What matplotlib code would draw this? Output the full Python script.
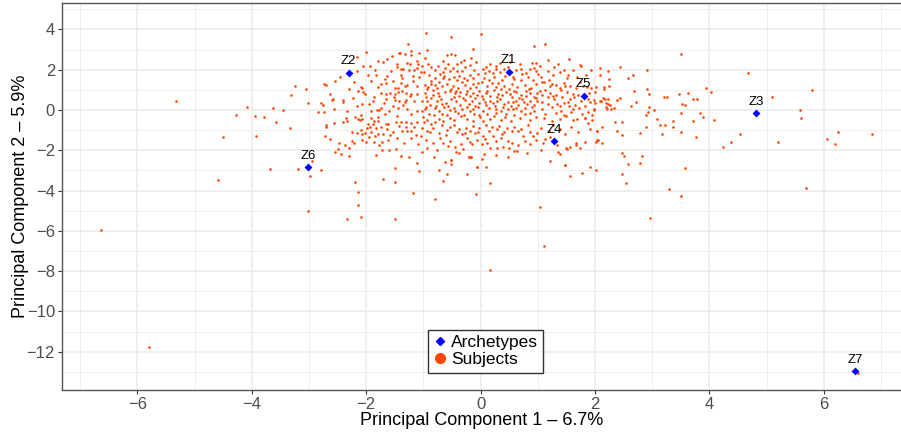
import matplotlib
matplotlib.use("Agg")
import matplotlib.pyplot as plt
from matplotlib.lines import Line2D
import numpy as np

plt.rcParams['font.family'] = ['Liberation Sans', 'DejaVu Sans']

# --- archetypes (PC1, PC2) ---
arch_names = ["Z1", "Z2", "Z3", "Z4", "Z5", "Z6", "Z7"]
arch_pc1 = [0.49, -2.31, 4.82, 1.28, 1.80, -3.02, 6.55]
arch_pc2 = [1.88, 1.86, -0.17, -1.56, 0.71, -2.85, -12.98]

# --- subjects (PC1, PC2) ---
outer = [
    (-6.63, -5.95), (-5.79, -11.78), (-5.33, 0.45), (-4.60, -3.45), (-4.50, -1.34),
    (-4.28, -0.26), (-4.09, 0.15), (-3.95, -0.30), (-3.93, -1.31), (-3.78, -0.35),
    (-3.69, -2.92), (-3.63, 0.11), (-3.57, -0.61), (-3.45, -0.02), (-3.34, -0.91),
    (-3.32, 0.73), (-3.24, 1.19), (-3.19, -2.92), (-3.06, 1.03), (-3.02, 0.35),
    (-2.98, -3.27), (-3.02, -5.01), (-2.79, -3.00), (-2.94, -2.52), (-2.84, -0.12),
    (6.59, -13.05), (1.04, -4.79), (1.11, -6.75), (0.16, -7.93), (2.97, -5.34),
    (-2.34, -5.42), (-2.09, -5.32), (-1.49, -5.39), (-2.14, -4.69), (-2.14, -4.06),
    (-2.20, -3.55), (-1.71, -3.43), (-1.50, -3.58), (-1.49, -2.89), (-1.18, -4.13),
    (-1.26, -2.35), (-1.12, -2.65), (-1.07, -3.02), (-0.79, -4.43), (-0.65, -3.50),
    (-0.72, -2.99), (-0.62, -2.59), (-0.51, -2.50), (-0.51, -2.69), (-0.20, -2.32),
    (-0.17, -2.32), (-0.24, -3.20), (-0.07, -2.85), (-0.08, -4.18), (0.06, -2.19),
    (0.10, -2.82), (0.16, -3.62), (-0.59, -3.16), (0.02, -2.44),
]

right = [
    (3.51, 2.80), (4.68, 1.86), (5.80, 0.98), (5.09, 0.66), (3.94, 1.11), (4.03, 0.91),
    (3.63, 0.83), (3.46, 0.80), (3.20, 0.63), (3.25, 0.66), (3.72, 0.53), (3.79, 0.53),
    (3.52, 0.30), (3.58, 0.25), (3.50, -0.13), (3.84, -0.15), (3.89, -0.35), (4.08, -0.50),
    (3.71, -0.56), (3.77, -1.33), (3.51, -1.09), (3.36, -0.56), (3.36, -0.83), (3.09, -0.43),
    (3.14, -0.76), (3.22, -0.73), (3.17, -1.19), (3.03, 0.02), (2.94, 0.16), (2.93, -0.12),
    (2.89, -0.25), (2.90, -0.83), (2.79, -1.13), (2.91, 1.03), (2.95, 0.80), (2.71, 0.40),
    (2.63, 0.18), (2.69, 0.93), (2.44, 0.58), (2.39, 0.51), (2.47, -0.58), (2.35, -0.58),
    (2.48, -1.23), (2.39, -1.04), (2.12, -0.83), (2.04, -1.04), (1.91, -0.93), (1.87, -0.66),
    (1.94, -0.50), (1.83, -0.40), (2.01, -1.58), (2.04, -1.50), (2.12, -1.64), (1.83, -1.58),
    (1.73, -1.89), (1.66, -1.64), (1.51, -1.92), (2.47, -2.12), (2.50, -2.26), (2.83, -2.26),
    (2.78, -2.65), (2.57, -2.70), (1.48, -2.74), (1.91, -2.84), (2.02, -2.99), (1.78, -3.12),
    (1.56, -3.28), (2.47, -3.17), (2.55, -3.60), (3.57, -2.89), (3.30, -3.91), (3.50, -4.25),
    (4.53, -1.21), (4.38, -1.59), (4.23, -1.82), (5.20, -1.59), (5.58, 0.00), (5.61, -0.41),
    (6.05, -1.43), (6.25, -1.09), (6.19, -1.68), (6.85, -1.21), (5.69, -3.87), (2.01, 1.16),
    (2.16, 1.16), (2.24, 1.19), (2.16, 1.04), (2.14, 0.58), (2.22, 0.56), (2.19, 0.33),
    (2.27, 0.25), (2.33, 0.10), (2.20, 0.13), (1.99, 0.50), (1.99, 0.00), (2.09, 0.46),
    (1.92, 0.40), (1.95, -0.25), (1.55, 2.54), (1.76, 2.19), (1.93, 1.99), (2.09, 2.09),
    (2.23, 1.92), (2.44, 2.16), (2.58, 1.61), (2.67, 1.72), (2.91, 2.01), (2.08, 1.76),
    (2.24, 1.53), (1.93, 1.09), (1.74, 2.24), (1.79, 1.21), (1.86, 1.16), (2.00, 0.88),
    (1.88, 0.56), (2.00, 0.36), (2.10, 0.43), (2.17, 0.53), (2.22, 0.28), (2.28, 0.05),
    (1.98, 0.03), (2.21, 0.07), (1.82, -0.38), (2.03, -1.04), (2.05, -1.49), (1.36, -2.07),
    (1.38, -2.20), (1.48, -2.74), (1.50, -1.90), (1.57, -1.82), (1.66, -1.74), (1.22, -2.54),
    (1.28, 2.12), (0.93, 3.20), (1.13, 3.28), (0.96, 2.34),
]

upper_left = [
    (-0.95, 3.83), (-0.51, 3.63), (0.01, 3.80), (-1.27, 3.30), (-0.93, 2.97), (-1.42, 2.85),
    (-1.22, 2.95), (-0.13, 3.05), (-0.52, 2.79), (-2.01, 2.90), (-2.06, 2.20), (-2.17, 1.92),
    (-2.16, 2.64), (-2.09, 1.16), (-2.15, 0.96), (-2.74, 1.29), (-2.70, 1.26), (-2.79, 0.36),
    (-2.75, 0.26), (-2.55, 1.46), (-2.46, 1.66), (-2.64, 0.80), (-2.58, 0.55), (-2.70, -0.75),
    (-2.57, -0.63), (-2.40, 0.50), (-2.40, -0.58), (-2.73, -1.31), (-2.64, -1.46), (-2.54, -2.09),
    (-2.48, -1.63), (-2.44, -2.20), (-2.30, -2.29), (-2.37, -1.72), (-2.25, -1.09), (-2.20, -0.33),
    (-2.10, -0.25), (-2.07, -0.46), (-2.08, 0.28), (-1.55, 2.70), (-1.41, 2.82), (-1.32, 2.79),
    (-1.22, 2.72), (-1.08, 2.82), (-1.47, 2.30), (-1.29, 2.32), (-1.23, 2.29), (-1.11, 2.44),
    (-1.09, 2.27), (-1.02, 2.17), (-0.92, 2.30), (-1.85, 2.00), (-1.39, 2.02), (-1.35, 2.02),
    (-1.26, 2.00), (-1.16, 1.99), (-1.05, 1.89), (-0.99, 1.89), (-1.83, 1.72), (-1.63, 1.71),
    (-1.40, 1.72), (-1.19, 1.68), (-1.92, 1.46), (-2.08, 1.11), (-1.68, 1.53), (-1.65, 1.33),
    (-1.80, 1.13), (-1.53, 1.46), (-1.49, 1.11), (-1.44, 1.11), (-1.39, 1.33), (-1.32, 1.19),
    (-1.28, 1.22), (-1.30, 0.86), (-1.21, 0.82), (-1.11, 1.21), (-0.98, 1.26), (-0.94, 1.04),
    (-0.98, 0.86), (-1.11, 0.80), (-2.05, 0.88), (-2.03, 0.80), (-1.74, 0.85), (-1.65, 0.81),
    (-1.58, 0.84), (-1.49, 0.78), (-1.45, 0.88), (-1.65, 0.53), (-1.49, 0.50), (-1.43, 0.43),
    (-1.33, 0.40), (-1.30, 0.50), (-1.16, 0.45), (-1.02, 0.45), (-0.94, 0.45), (-1.96, 0.31),
    (-1.81, 0.02), (-1.78, 0.00), (-1.74, 0.10), (-1.60, -0.05), (-1.44, 0.08), (-1.28, 0.05),
    (-1.11, -0.07), (-1.02, -0.07), (-0.97, 0.03), (-1.92, -0.07), (-2.16, 0.20), (-2.34, -0.03),
    (-2.56, 0.05), (-2.74, -0.08), (-2.41, 0.41), (-2.60, 0.48),
]

centre_top = [
    (-0.59, 2.75), (-0.44, 2.72), (-0.17, 2.59), (-0.66, 2.45), (-0.57, 2.30), (-0.42, 2.27),
    (-0.29, 2.50), (-0.19, 2.25), (0.10, 2.15), (0.16, 2.27), (0.27, 2.20), (0.26, 2.04),
    (0.15, 1.96), (0.08, 1.82), (0.40, 2.04), (0.90, 2.32), (0.94, 2.09), (0.86, 2.04),
    (1.46, 2.01), (1.53, 1.76), (-0.79, 1.97), (-0.66, 1.91), (-0.53, 1.92), (-0.42, 1.94),
    (-0.32, 1.96), (-0.19, 1.76), (-0.05, 1.81), (-0.80, 1.61), (-0.72, 1.41), (-0.64, 1.69),
    (-0.56, 1.53), (-0.42, 1.49), (-0.33, 1.39), (-0.23, 1.48), (-0.13, 1.28), (-0.04, 1.33),
    (0.03, 1.41), (0.14, 1.51), (0.19, 1.36), (0.31, 1.36), (0.37, 1.48), (0.54, 1.29),
    (0.59, 1.53), (0.71, 1.49), (0.73, 1.78), (1.00, 1.78), (1.07, 1.41), (1.11, 1.41),
    (1.19, 1.51), (1.25, 1.31), (1.32, 1.26), (1.46, 1.33), (1.57, 1.21), (1.51, 1.61),
    (-0.87, 1.28), (-0.79, 1.26), (-0.83, 0.98), (-0.74, 0.85), (-0.62, 0.88), (-0.53, 0.96),
    (-0.44, 0.86), (-0.36, 0.90), (-0.26, 0.79), (-0.14, 0.86), (-0.06, 0.76), (-0.02, 0.95),
    (0.09, 0.85), (0.23, 1.00), (0.31, 0.80), (0.44, 0.91), (0.51, 0.79), (0.62, 0.90),
    (0.71, 0.75), (0.79, 0.96), (0.87, 0.86), (0.98, 0.84), (1.08, 0.73), (1.13, 1.00),
    (1.22, 0.86), (1.32, 0.77), (1.41, 1.00), (1.51, 0.91), (1.62, 0.81), (1.71, 0.75),
    (-0.87, 0.58), (-0.77, 0.45), (-0.69, 0.53), (-0.60, 0.36), (-0.52, 0.53), (-0.43, 0.45),
    (-0.36, 0.25), (-0.28, 0.51), (-0.21, 0.30), (-0.15, 0.45), (-0.10, 0.18), (-0.02, 0.36),
    (0.05, 0.56), (0.10, 0.23), (0.17, 0.45), (0.25, 0.20), (0.33, 0.53), (0.41, 0.30),
    (0.48, 0.03), (0.57, 0.05), (0.65, 0.25), (0.73, 0.53), (0.81, 0.30), (0.89, 0.13),
    (0.99, 0.43), (1.08, 0.05), (1.18, 0.28), (1.29, 0.53), (1.38, 0.18), (1.46, 0.35),
    (1.55, 0.18), (1.65, 0.25), (-0.80, 0.08), (-0.72, -0.07), (-0.53, 0.02), (-0.44, -0.07),
    (-0.18, -0.05), (0.04, -0.05), (0.36, -0.05), (0.70, -0.07), (0.94, -0.07), (1.41, -0.07),
]

centre_low = [
    (-2.36, -0.41), (-2.34, -0.55), (-2.15, -0.42), (-2.11, -0.50), (-1.91, -0.40), (-1.87, -0.53),
    (-1.79, -0.53), (-1.79, -0.33), (-1.65, -0.70), (-1.62, -0.70), (-1.48, -0.61), (-1.40, -0.58),
    (-1.30, -0.61), (-1.22, -0.63), (-1.11, -0.61), (-1.01, -0.35), (-0.99, -0.58), (-0.93, -0.50),
    (-2.70, -0.85), (-2.17, -1.16), (-2.10, -0.98), (-1.98, -0.91), (-1.91, -1.11), (-1.83, -0.91),
    (-1.75, -0.86), (-1.89, -0.70), (-1.97, -0.68), (-2.03, -1.16), (-2.07, -1.21), (-1.95, -1.36),
    (-1.85, -1.31), (-1.79, -1.20), (-1.70, -1.21), (-1.59, -1.23), (-1.47, -1.41), (-1.37, -1.05),
    (-1.28, -1.03), (-1.21, -1.03), (-1.13, -1.23), (-1.05, -1.30), (-0.93, -1.03), (-0.89, -1.11),
    (-2.25, -1.54), (-2.22, -1.66), (-2.07, -1.49), (-2.00, -1.61), (-1.77, -1.72), (-1.72, -1.58),
    (-1.60, -1.96), (-1.73, -1.97), (-1.48, -1.91), (-0.94, -1.86), (-2.50, -1.94), (-2.30, -1.86),
    (-0.79, -0.58), (-0.73, -0.45), (-0.65, -0.55), (-0.54, -0.38), (-0.47, -0.50), (-0.35, -0.32),
    (-0.24, -0.45), (-0.13, -0.55), (-0.01, -0.35), (0.05, -0.52), (0.16, -0.42), (0.23, -0.30),
    (0.36, -0.48), (0.43, -0.36), (0.53, -0.55), (0.69, -0.40), (0.87, -0.47), (0.97, -0.33),
    (1.10, -0.38), (1.24, -0.52), (1.38, -0.44), (1.50, -0.30), (1.62, -0.50), (1.69, -0.42),
    (-0.83, -0.91), (-0.67, -0.75), (-0.59, -0.97), (-0.47, -0.72), (-0.41, -1.08), (-0.33, -1.19),
    (-0.25, -0.88), (-0.19, -1.04), (-0.09, -1.16), (-0.02, -0.91), (0.05, -1.28), (0.14, -1.03),
    (0.22, -1.29), (0.29, -0.95), (0.37, -1.21), (0.46, -0.91), (0.55, -1.04), (0.65, -1.06),
    (0.78, -1.54), (0.87, -1.08), (0.99, -1.16), (1.13, -1.44), (-0.76, -1.99), (-0.65, -1.66),
    (-0.53, -1.54), (-0.44, -1.82), (-0.35, -1.71), (-0.24, -1.41), (-0.15, -1.71), (-0.06, -1.49),
    (0.08, -1.44), (0.17, -1.90), (0.29, -1.87), (0.39, -1.82), (0.49, -1.90), (0.58, -2.04),
    (0.64, -2.04), (0.47, -1.54), (0.55, -1.66), (-0.52, -2.49), (-0.43, -2.07), (-0.21, -2.33),
    (-0.16, -2.33), (-0.06, -2.84),
]

# estimated extra points where the core is too dense to read one by one
core_fill = [
    (-1.93, 2.21), (-1.71, 2.38), (-1.57, 1.94), (-1.46, 2.13), (-1.38, 1.57), (-1.74, 1.27),
    (-1.86, 0.67), (-1.52, 0.66), (-1.37, 0.97), (-1.18, 1.42), (-1.07, 1.62), (-1.24, 0.68),
    (-1.69, 0.34), (-1.53, 0.21), (-1.36, 0.24), (-1.21, -0.22), (-1.47, -0.31), (-1.68, -0.19),
    (-1.89, 0.47), (-2.23, 0.62), (-2.31, 1.02), (-2.21, 1.37), (-1.97, 1.73), (-1.12, 2.07),
    (-0.97, 2.58), (-1.63, 2.51), (-1.79, 2.44),
    (-0.91, 1.73), (-0.86, 2.14), (-0.75, 2.21), (-0.71, 1.78), (-0.63, 2.07), (-0.48, 2.11),
    (-0.37, 1.71), (-0.27, 2.13), (-0.12, 1.98), (-0.08, 2.37), (-0.35, 2.41), (-0.58, 1.27),
    (-0.49, 1.18), (-0.39, 1.07), (-0.27, 1.22), (-0.18, 1.09), (-0.08, 1.14), (-0.92, 1.12),
    (-0.77, 1.08), (-0.67, 1.21), (-0.47, 0.64), (-0.38, 0.71), (-0.31, 0.62), (-0.19, 0.68),
    (-0.09, 0.61), (-0.73, 0.71), (-0.84, 0.77), (-0.95, 0.63), (-0.64, 0.14), (-0.57, 0.21),
    (-0.46, 0.12), (-0.33, 0.07), (-0.24, 0.14), (-0.13, 0.04), (-0.04, 0.17), (-0.89, 0.27),
    (-0.78, 0.19), (-0.68, 0.31), (-0.91, -0.21), (-0.82, -0.27), (-0.67, -0.19), (-0.58, -0.26),
    (-0.39, -0.17), (-0.29, -0.23), (-0.11, -0.19), (-0.03, -0.27), (-0.52, 1.04), (-0.14, 1.61),
    (-0.29, 1.58), (-0.47, 1.66), (-0.66, 1.57), (-0.86, 1.46), (-0.96, 0.16), (-0.23, 0.97),
    (-0.43, 0.94),
    (0.04, 2.04), (0.21, 1.84), (0.33, 1.91), (0.47, 2.14), (0.53, 1.87), (0.62, 2.01),
    (0.68, 2.28), (0.79, 1.86), (0.97, 1.92), (0.06, 1.61), (0.24, 1.66), (0.43, 1.71),
    (0.57, 1.66), (0.82, 1.63), (0.92, 1.49), (0.11, 1.18), (0.27, 1.12), (0.41, 1.21),
    (0.49, 1.06), (0.64, 1.16), (0.77, 1.22), (0.88, 1.11), (0.97, 1.27), (0.03, 0.68),
    (0.16, 0.71), (0.29, 0.66), (0.38, 0.74), (0.54, 0.63), (0.67, 0.62), (0.79, 0.71),
    (0.93, 0.64), (0.12, 0.94), (0.35, 1.04), (0.58, 0.96), (0.84, 1.03), (0.08, 0.38),
    (0.21, 0.34), (0.29, 0.43), (0.47, 0.41), (0.56, 0.38), (0.62, 0.47), (0.76, 0.39),
    (0.87, 0.47), (0.94, 0.27), (0.14, 0.08), (0.27, 0.04), (0.39, 0.13), (0.53, 0.18),
    (0.61, 0.11), (0.78, 0.09), (0.86, -0.16), (0.12, -0.21), (0.26, -0.17), (0.45, -0.22),
    (0.58, -0.27), (0.77, -0.21), (0.96, 0.58), (0.51, 2.41), (0.33, 2.33), (0.71, 2.06),
    (1.04, 2.21), (1.17, 1.96), (1.26, 1.74), (1.38, 1.88), (1.61, 1.97), (1.68, 1.62),
    (1.06, 1.63), (1.21, 1.19), (1.38, 1.11), (1.48, 1.18), (1.66, 1.08), (1.74, 1.41),
    (1.03, 0.96), (1.18, 0.64), (1.27, 0.71), (1.43, 0.66), (1.56, 0.57), (1.64, 0.64),
    (1.76, 0.46), (1.07, 0.38), (1.24, 0.14), (1.33, 0.31), (1.52, 0.42), (1.61, 0.07),
    (1.72, 0.11), (1.83, 0.22), (1.12, -0.21), (1.31, -0.17), (1.46, -0.24), (1.58, -0.12),
    (1.77, -0.21), (1.88, -0.08), (1.36, 2.31), (1.18, 2.47), (1.84, 1.74), (1.89, 0.83),
    (-1.93, -0.83), (-1.64, -0.93), (-1.53, -1.07), (-1.43, -0.79), (-1.31, -0.86), (-1.17, -0.82),
    (-1.03, -0.89), (-0.87, -0.71), (-0.73, -1.13), (-0.61, -1.26), (-0.53, -0.84), (-0.37, -0.93),
    (-0.28, -1.13), (-0.13, -0.77), (-0.04, -1.07), (0.09, -0.73), (0.19, -0.86), (0.32, -0.79),
    (0.41, -1.11), (0.58, -0.82), (0.71, -0.93), (0.83, -0.76), (0.91, -1.27), (1.06, -0.87),
    (1.19, -1.06), (1.27, -0.73), (1.39, -0.96), (1.47, -1.21), (1.58, -0.84), (1.71, -1.07),
    (-1.86, -1.58), (-1.62, -1.47), (-1.34, -1.63), (-1.21, -1.38), (-1.09, -1.71), (-0.96, -1.47),
    (-0.83, -1.62), (-0.71, -1.39), (-0.57, -1.81), (-0.31, -1.93), (-0.19, -1.58), (0.02, -1.71),
    (0.12, -1.63), (0.27, -1.56), (0.36, -1.37), (0.66, -1.73), (0.74, -1.31), (0.86, -1.69),
    (0.97, -1.47), (1.09, -1.66), (1.22, -1.33), (1.06, -1.96), (0.81, -2.13), (0.27, -2.21),
    (-0.37, -2.12), (-1.03, -2.08), (-1.39, -2.27), (-1.83, -2.21), (1.33, -1.76), (0.47, -2.31),
    (-0.82, -2.33),
]

subjects = np.array(outer + right + upper_left + centre_top + centre_low + core_fill)

# --- plot ---
fig = plt.figure(figsize=(9.01, 4.34), dpi=100)
ax = fig.add_axes([0.0688, 0.1014, 0.9312, 0.891])

ax.scatter(subjects[:, 0], subjects[:, 1], s=3.5, color='#FF4500', linewidths=0, zorder=3)
ax.scatter(arch_pc1, arch_pc2, marker='D', s=16, color='#0000FF', linewidths=0, zorder=4)
for name, x, y in zip(arch_names, arch_pc1, arch_pc2):
    ax.annotate(name, (x, y), xytext=(0, 8.5), textcoords='offset points',
                ha='center', va='center', fontsize=9.5, color='black', zorder=5)

ax.set_xlim(-7.32, 7.35)
ax.set_ylim(-13.9, 5.3)
ax.set_xticks(np.arange(-6, 7, 2))
ax.set_yticks(np.arange(-12, 5, 2))
ax.set_xticks(np.arange(-7, 8, 2), minor=True)
ax.set_yticks(np.arange(-13, 6, 2), minor=True)
ax.set_xticklabels([str(v).replace('-', '\u2212') for v in range(-6, 7, 2)])
ax.set_yticklabels([str(v).replace('-', '\u2212') for v in range(-12, 5, 2)])
ax.grid(which='major', color='#EBEBEB', linewidth=1.1, zorder=0)
ax.grid(which='minor', color='#EBEBEB', linewidth=0.6, zorder=0)
ax.set_axisbelow(True)
ax.tick_params(which='major', length=3, color='#333333', labelsize=12, labelcolor='#4D4D4D', pad=2)
ax.tick_params(which='minor', length=0)
for side in ['left', 'bottom', 'top']:
    ax.spines[side].set_color('#555555')
    ax.spines[side].set_linewidth(1.0)
ax.spines['right'].set_visible(False)

ax.set_xlabel("Principal Component 1 \u2013 6.7%", fontsize=13, labelpad=0)
ax.set_ylabel("Principal Component 2 \u2013 5.9%", fontsize=13, labelpad=-2)

handles = [
    Line2D([], [], marker='D', linestyle='', color='#0000FF', markersize=4),
    Line2D([], [], marker='o', linestyle='', color='#FF4500', markersize=7),
]
leg = ax.legend(handles, ["Archetypes", "Subjects"], loc='lower center',
                bbox_to_anchor=(0.505, 0.045), fontsize=12.5, frameon=True, fancybox=False,
                handlelength=0.8, handletextpad=0.2, borderpad=0.3, labelspacing=0.1,
                borderaxespad=0.0)
leg.get_frame().set_edgecolor('black')
leg.get_frame().set_linewidth(1.0)

fig.savefig("out.png", dpi=100)
